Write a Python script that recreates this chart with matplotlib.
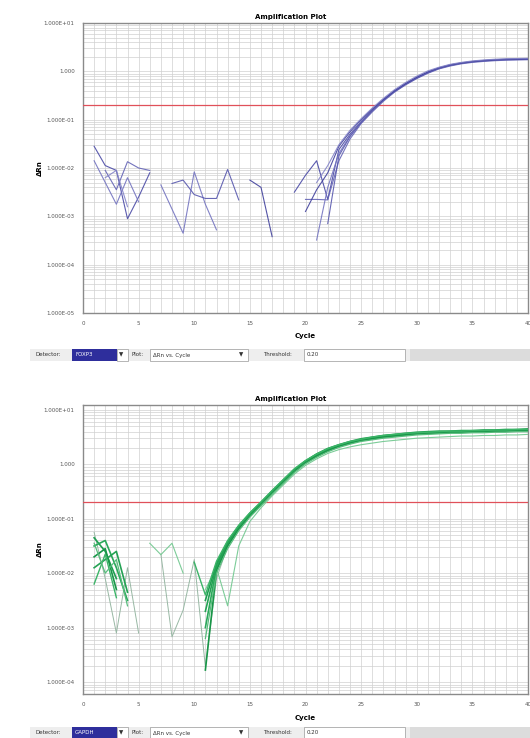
import numpy as np
import matplotlib
matplotlib.use("Agg")
import matplotlib.pyplot as plt
from matplotlib.patches import Rectangle
from matplotlib.ticker import FixedLocator, FixedFormatter, LogLocator, MultipleLocator, NullFormatter

n = np.nan
cycles = list(range(1, 41))

# ---- top panel (blue detector), values stored as log10(ΔRn); NaN = not shown (≤0)
blue_1 = [-1.55, -1.95, -2.05, -3.05, -2.6, -2.1, n, n, n, n, n, n, n, n, n, n, n, n, -2.5, -2.15,
          -1.85, -2.65, -1.62, -1.3, -1.04, -0.80, -0.59, -0.41, -0.26, -0.13, -0.02, 0.07, 0.13, 0.17, 0.20, 0.22, 0.235, 0.245, 0.25, 0.255]
blue_2 = [n, -2.05, -2.45, -1.87, -2.0, -2.05, n, n, n, n, n, n, n, n, n, n, n, n, n, -2.65,
          -2.65, -2.66, -1.85, -1.4, -1.08, -0.84, -0.62, -0.43, -0.28, -0.15, -0.04, 0.05, 0.11, 0.155, 0.185, 0.205, 0.22, 0.23, 0.235, 0.24]
blue_3 = [-1.85, -2.3, -2.75, -2.2, -2.7, n, -2.35, -2.85, -3.35, -2.08, -2.75, -3.28, n, n, n, n, n, n, n, n,
          -3.49, -2.4, -1.7, -1.33, -1.05, -0.81, -0.6, -0.41, -0.26, -0.13, -0.02, 0.065, 0.125, 0.17, 0.2, 0.22, 0.235, 0.245, 0.25, 0.255]
blue_4 = [n, n, n, n, n, n, n, -2.32, -2.25, -2.55, -2.63, -2.63, -2.03, -2.66, n, n, n, n, n, n,
          n, -3.15, -1.75, -1.35, -1.06, -0.82, -0.6, -0.42, -0.27, -0.14, -0.03, 0.06, 0.12, 0.165, 0.195, 0.215, 0.23, 0.24, 0.245, 0.25]
blue_5 = [n, n, n, n, n, n, n, n, n, n, n, n, n, n, -2.25, -2.4, -3.42, n, n, -2.9,
          -2.45, -2.1, -1.55, -1.25, -1.0, -0.78, -0.58, -0.4, -0.25, -0.12, -0.01, 0.075, 0.135, 0.175, 0.205, 0.225, 0.24, 0.25, 0.255, 0.26]
blue_6 = [n, -2.2, -2.05, -2.8, n, n, n, n, n, n, n, n, n, n, n, n, n, n, n, n,
          -2.3, -1.95, -1.52, -1.22, -0.98, -0.76, -0.56, -0.38, -0.23, -0.10, 0.01, 0.085, 0.145, 0.185, 0.215, 0.235, 0.25, 0.26, 0.265, 0.27]

# ---- bottom panel (green detector), log10(ΔRn)
green_1 = [-1.35, -1.6, -2.1, n, n, n, n, n, n, n, -2.5, -1.82, -1.42, -1.13, -0.9, -0.7, -0.49, -0.29, -0.1, 0.06,
           0.18, 0.28, 0.35, 0.41, 0.45, 0.49, 0.52, 0.54, 0.56, 0.57, 0.58, 0.59, 0.6, 0.61, 0.61, 0.62, 0.62, 0.63, 0.63, 0.64]
green_2 = [-1.5, -1.4, -1.9, -2.5, n, n, n, n, n, n, -3.0, -1.9, -1.47, -1.17, -0.94, -0.73, -0.52, -0.32, -0.12, 0.04,
           0.16, 0.26, 0.34, 0.39, 0.44, 0.47, 0.5, 0.52, 0.54, 0.56, 0.57, 0.58, 0.59, 0.59, 0.6, 0.6, 0.61, 0.61, 0.62, 0.62]
green_3 = [-1.7, -1.55, -2.3, n, n, n, n, n, n, n, -3.78, -1.95, -1.5, -1.19, -0.95, -0.74, -0.53, -0.33, -0.13, 0.03,
           0.15, 0.25, 0.33, 0.39, 0.44, 0.47, 0.5, 0.52, 0.54, 0.56, 0.57, 0.58, 0.59, 0.6, 0.6, 0.61, 0.61, 0.62, 0.62, 0.63]
green_4 = [-1.9, -1.75, -1.6, -2.35, n, n, n, n, n, n, -2.7, -1.85, -1.44, -1.14, -0.91, -0.71, -0.5, -0.3, -0.1, 0.06,
           0.19, 0.29, 0.36, 0.42, 0.47, 0.5, 0.53, 0.55, 0.57, 0.59, 0.6, 0.61, 0.61, 0.62, 0.62, 0.63, 0.63, 0.64, 0.64, 0.65]
green_5 = [-2.2, -1.65, -2.45, n, n, n, n, n, n, -1.8, -2.4, -1.78, -1.4, -1.12, -0.89, -0.69, -0.48, -0.28, -0.08, 0.07,
           0.19, 0.29, 0.36, 0.42, 0.46, 0.5, 0.53, 0.55, 0.57, 0.58, 0.59, 0.6, 0.61, 0.61, 0.62, 0.62, 0.63, 0.63, 0.64, 0.64]
green_6 = [-1.45, -2.0, -1.75, -2.6, n, n, n, n, n, n, -3.2, -2.0, -1.55, -1.22, -0.97, -0.76, -0.55, -0.35, -0.15, 0.01,
           0.13, 0.23, 0.31, 0.37, 0.42, 0.45, 0.48, 0.5, 0.52, 0.54, 0.55, 0.56, 0.57, 0.57, 0.58, 0.58, 0.59, 0.59, 0.6, 0.6]
green_7 = [-1.25, -2.1, -3.1, -1.9, -3.1, n, -1.65, -3.17, -2.68, -1.75, -3.72, -2.1, -1.5, -1.18, -0.93, -0.72, -0.51, -0.31, -0.11, 0.05,
           0.17, 0.27, 0.34, 0.4, 0.45, 0.48, 0.51, 0.53, 0.55, 0.57, 0.58, 0.59, 0.6, 0.6, 0.61, 0.61, 0.62, 0.62, 0.63, 0.63]
green_8 = [n, n, n, n, n, -1.45, -1.66, -1.45, -2.0, n, -2.3, -1.9, -2.6, -1.5, -1.05, -0.8, -0.58, -0.38, -0.18, -0.02,
           0.1, 0.2, 0.27, 0.32, 0.36, 0.39, 0.42, 0.44, 0.46, 0.48, 0.49, 0.5, 0.51, 0.52, 0.52, 0.53, 0.53, 0.54, 0.54, 0.55]

threshold = 0.20
x_ticks = [0, 5, 10, 15, 20, 25, 30, 35, 40]
top_ytick_values = [1e-5, 1e-4, 1e-3, 1e-2, 1e-1, 1e0, 1e1]
top_ytick_labels = ["1.000E-05", "1.000E-04", "1.000E-03", "1.000E-02", "1.000E-01", "1.000", "1.000E+01"]
bot_ytick_values = [1e-4, 1e-3, 1e-2, 1e-1, 1e0, 1e1]
bot_ytick_labels = ["1.000E-04", "1.000E-03", "1.000E-02", "1.000E-01", "1.000", "1.000E+01"]

W, H = 530, 738
fig = plt.figure(figsize=(W / 100, H / 100), dpi=100)
fig.patch.set_facecolor("white")


def rect(l, t, r, b):
    return [l / W, 1 - b / H, (r - l) / W, (b - t) / H]


def style_axes(ax, ylim, yvals, ylabels):
    ax.set_yscale("log")
    ax.set_xlim(0, 40)
    ax.set_ylim(*ylim)
    ax.xaxis.set_major_locator(FixedLocator(x_ticks))
    ax.xaxis.set_minor_locator(MultipleLocator(1))
    ax.yaxis.set_major_locator(FixedLocator(yvals))
    ax.yaxis.set_major_formatter(FixedFormatter(ylabels))
    ax.yaxis.set_minor_locator(LogLocator(base=10, subs=range(2, 10), numticks=50))
    ax.yaxis.set_minor_formatter(NullFormatter())
    ax.grid(which="both", color="#d0d0d0", lw=0.5)
    ax.set_axisbelow(True)
    ax.tick_params(which="both", length=0)
    ax.tick_params(axis="y", labelsize=4, pad=6, labelcolor="#555555")
    ax.tick_params(axis="x", labelsize=4, pad=6, labelcolor="#555555")
    for s in ax.spines.values():
        s.set_color("#8a8a8a")
        s.set_linewidth(1.0)
    ax.axhline(threshold, color="#e0505a", lw=0.9, zorder=3)


def control_bar(y, name):
    h = 12
    def box(x0, x1, fc, ec="none", lw=0.0):
        fig.add_artist(Rectangle((x0 / W, 1 - (y + h) / H), (x1 - x0) / W, h / H,
                                 transform=fig.transFigure, facecolor=fc, edgecolor=ec, lw=lw))
    def txt(x, s, c="#333333", **kw):
        fig.text(x / W, 1 - (y + h / 2) / H, s, fontsize=4, color=c, ha="left", va="center", **kw)
    box(30, 410, "#eeeeee")
    box(410, 530, "#dcdcdc")
    txt(35, "Detector:")
    box(72, 117, "#2e2e9c")
    txt(75, name, c="white")
    box(117, 128, "white", "#999999", 0.5)
    txt(119, "▼", c="#333333")
    txt(132, "Plot:")
    box(150, 248, "white", "#999999", 0.5)
    txt(153, "ΔRn vs. Cycle")
    txt(239, "▼")
    txt(263, "Threshold:")
    box(304, 405, "white", "#999999", 0.5)
    txt(307, "0.20")


# ---- top panel
ax1 = fig.add_axes(rect(83, 23, 528, 313))
style_axes(ax1, (1e-5, 1e1), top_ytick_values, top_ytick_labels)
blue_series = [blue_1, blue_2, blue_3, blue_4, blue_5, blue_6]
blue_colors = ["#4a4aa6", "#6464b6", "#7474c0", "#5858ae", "#40409c", "#8484c8"]
for s, c in zip(blue_series, blue_colors):
    ax1.plot(cycles, np.power(10.0, np.array(s)), color=c, lw=0.8, alpha=0.9, zorder=4)
fig.text(291 / W, 1 - 17 / H, "Amplification Plot", fontsize=5, fontweight="bold", ha="center", va="center")
fig.text(305 / W, 1 - 336 / H, "Cycle", fontsize=5, fontweight="bold", ha="center", va="center")
fig.text(40 / W, 1 - 168 / H, "ΔRn", fontsize=5, fontweight="bold", rotation=90, ha="center", va="center")
control_bar(349, "FOXP3")

# ---- bottom panel
ax2 = fig.add_axes(rect(83, 405, 528, 694))
style_axes(ax2, (10 ** -4.22, 10 ** 1.09), bot_ytick_values, bot_ytick_labels)
green_series = [green_7, green_8, green_1, green_2, green_3, green_4, green_5, green_6]
green_colors = ["#98b8a4", "#7ccc98", "#1e9e50", "#2aa85a", "#189648", "#24a254", "#3cb468", "#58bc7c"]
green_widths = [0.7, 0.8, 1.2, 1.2, 1.2, 1.2, 1.0, 0.9]
for s, c, w in zip(green_series, green_colors, green_widths):
    ax2.plot(cycles, np.power(10.0, np.array(s)), color=c, lw=w, zorder=4)
fig.text(291 / W, 1 - 399 / H, "Amplification Plot", fontsize=5, fontweight="bold", ha="center", va="center")
fig.text(305 / W, 1 - 718 / H, "Cycle", fontsize=5, fontweight="bold", ha="center", va="center")
fig.text(40 / W, 1 - 549 / H, "ΔRn", fontsize=5, fontweight="bold", rotation=90, ha="center", va="center")
control_bar(727, "GAPDH")

fig.savefig("out.png", dpi=100)
